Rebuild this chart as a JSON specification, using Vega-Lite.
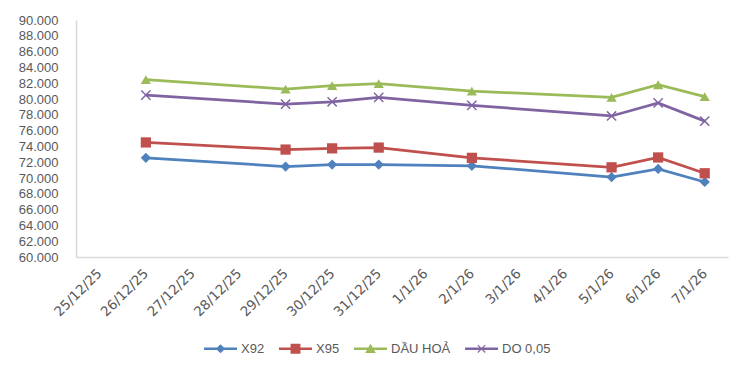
{
  "$schema": "https://vega.github.io/schema/vega-lite/v6.json",
  "width": 652,
  "height": 237,
  "autosize": "none",
  "padding": {"left": 76, "top": 20, "right": 22, "bottom": 118},
  "background": "white",
  "config": {
    "view": {"stroke": null},
    "font": "Liberation Sans",
    "axis": {"labelColor": "#595959", "labelFontSize": 13, "domainColor": "#D9D9D9", "domainWidth": 1.5, "ticks": false, "grid": false, "title": null},
    "legend": {"labelColor": "#595959", "labelFontSize": 13}
  },
  "resolve": {"scale": {"shape": "independent"}, "legend": {"shape": "independent", "color": "independent"}},
  "data": {
    "values": [
      {"date": "26/12/25", "series": "X92", "value": 72.55},
      {"date": "29/12/25", "series": "X92", "value": 71.45},
      {"date": "30/12/25", "series": "X92", "value": 71.7},
      {"date": "31/12/25", "series": "X92", "value": 71.7},
      {"date": "2/1/26", "series": "X92", "value": 71.55},
      {"date": "5/1/26", "series": "X92", "value": 70.1},
      {"date": "6/1/26", "series": "X92", "value": 71.15},
      {"date": "7/1/26", "series": "X92", "value": 69.5},
      {"date": "26/12/25", "series": "X95", "value": 74.5},
      {"date": "29/12/25", "series": "X95", "value": 73.6},
      {"date": "30/12/25", "series": "X95", "value": 73.75},
      {"date": "31/12/25", "series": "X95", "value": 73.85},
      {"date": "2/1/26", "series": "X95", "value": 72.55},
      {"date": "5/1/26", "series": "X95", "value": 71.35},
      {"date": "6/1/26", "series": "X95", "value": 72.6},
      {"date": "7/1/26", "series": "X95", "value": 70.6},
      {"date": "26/12/25", "series": "DẦU HOẢ", "value": 82.45},
      {"date": "29/12/25", "series": "DẦU HOẢ", "value": 81.25},
      {"date": "30/12/25", "series": "DẦU HOẢ", "value": 81.7},
      {"date": "31/12/25", "series": "DẦU HOẢ", "value": 81.95},
      {"date": "2/1/26", "series": "DẦU HOẢ", "value": 81.0},
      {"date": "5/1/26", "series": "DẦU HOẢ", "value": 80.2},
      {"date": "6/1/26", "series": "DẦU HOẢ", "value": 81.8},
      {"date": "7/1/26", "series": "DẦU HOẢ", "value": 80.3},
      {"date": "26/12/25", "series": "DO 0,05", "value": 80.5},
      {"date": "29/12/25", "series": "DO 0,05", "value": 79.35},
      {"date": "30/12/25", "series": "DO 0,05", "value": 79.65},
      {"date": "31/12/25", "series": "DO 0,05", "value": 80.2},
      {"date": "2/1/26", "series": "DO 0,05", "value": 79.2},
      {"date": "5/1/26", "series": "DO 0,05", "value": 77.85},
      {"date": "6/1/26", "series": "DO 0,05", "value": 79.5},
      {"date": "7/1/26", "series": "DO 0,05", "value": 77.2}
    ]
  },
  "encoding": {
    "x": {
      "field": "date", "type": "ordinal",
      "scale": {"type": "point", "padding": 0.5, "domain": ["25/12/25","26/12/25","27/12/25","28/12/25","29/12/25","30/12/25","31/12/25","1/1/26","2/1/26","3/1/26","4/1/26","5/1/26","6/1/26","7/1/26"]},
      "axis": {"labelAngle": -45, "labelAlign": "right", "labelBaseline": "middle", "labelPadding": 14, "labelFont": "DejaVu Sans", "labelFontSize": 13.5}
    },
    "y": {
      "field": "value", "type": "quantitative",
      "scale": {"domain": [60, 90], "nice": false, "zero": false},
      "axis": {"values": [60,62,64,66,68,70,72,74,76,78,80,82,84,86,88,90], "format": ".3f", "labelPadding": 18}
    },
    "color": {
      "field": "series", "type": "nominal",
      "scale": {"domain": ["X92", "X95", "DẦU HOẢ", "DO 0,05"], "range": ["#4F81BD", "#C0504D", "#9BBB59", "#8064A2"]},
      "legend": null
    }
  },
  "layer": [
    {"mark": {"type": "line", "strokeWidth": 2.75}},
    {
      "mark": {"type": "point", "filled": true, "size": 105, "opacity": 1},
      "encoding": {
        "shape": {
          "field": "series", "type": "nominal",
          "scale": {"domain": ["X92", "X95", "DẦU HOẢ", "DO 0,05"], "range": ["diamond", "square", "triangle-up", "M-1,-0.8L-0.8,-1L0,-0.2L0.8,-1L1,-0.8L0.2,0L1,0.8L0.8,1L0,0.2L-0.8,1L-1,0.8L-0.2,0Z"]},
          "legend": null
        }
      }
    },
    {
      "transform": [{"filter": "datum.value < 0"}],
      "mark": {"type": "point", "filled": true, "size": 90, "opacity": 1},
      "encoding": {
        "shape": {
          "field": "series", "type": "nominal",
          "scale": {"domain": ["X92", "X95", "DẦU HOẢ", "DO 0,05"], "range": [
            "M-1,-0.07L1,-0.07L1,0.07L-1,0.07Z M0,-0.28L0.28,0L0,0.28L-0.28,0Z",
            "M-1,-0.07L1,-0.07L1,0.07L-1,0.07Z M-0.3,-0.3L0.3,-0.3L0.3,0.3L-0.3,0.3Z",
            "M-1,-0.07L1,-0.07L1,0.07L-1,0.07Z M0,-0.3L0.32,0.25L-0.32,0.25Z",
            "M-1,-0.07L1,-0.07L1,0.07L-1,0.07Z M-0.25,-0.2L-0.2,-0.25L0,-0.05L0.2,-0.25L0.25,-0.2L0.05,0L0.25,0.2L0.2,0.25L0,0.05L-0.2,0.25L-0.25,0.2L-0.05,0Z"
          ]},
          "legend": {"orient": "none", "legendX": 128, "legendY": 312, "direction": "horizontal", "title": null, "symbolSize": 1089, "symbolStrokeWidth": 0, "columnPadding": 14, "labelOffset": 4, "labelLimit": 200}
        },
        "color": {
          "field": "series", "type": "nominal",
          "legend": {"orient": "none", "legendX": 128, "legendY": 312, "direction": "horizontal", "title": null, "symbolSize": 1089, "symbolStrokeWidth": 0, "columnPadding": 14, "labelOffset": 4, "labelLimit": 200}
        }
      }
    }
  ]
}
